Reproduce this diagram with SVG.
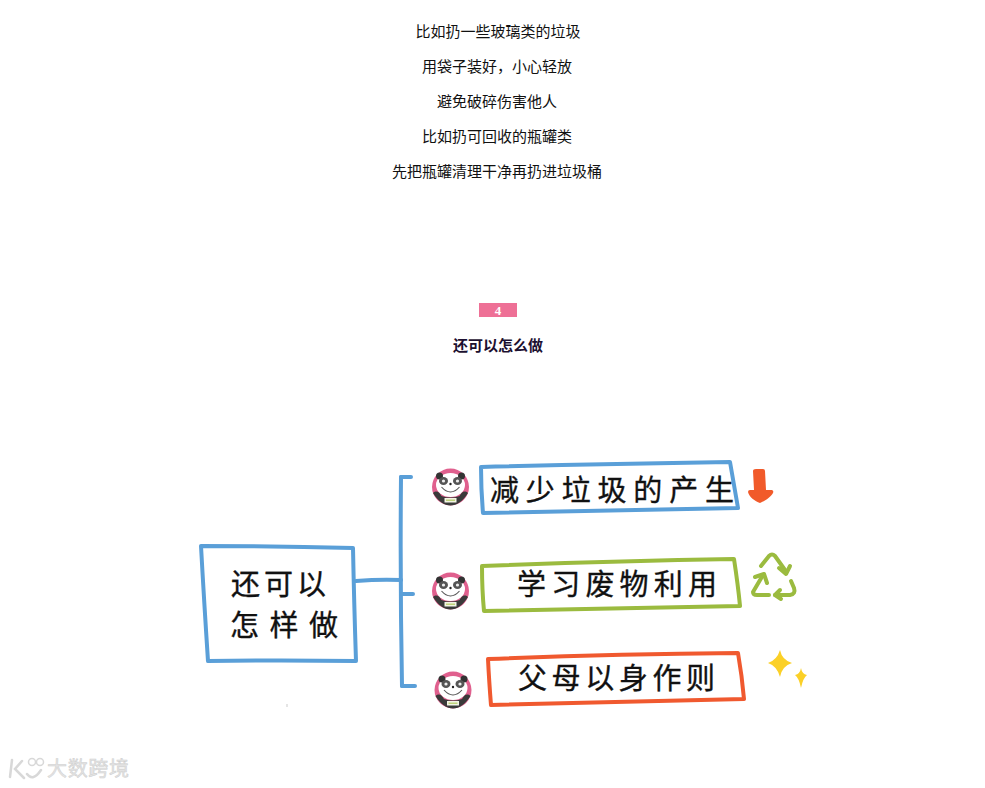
<svg xmlns="http://www.w3.org/2000/svg" xmlns:xlink="http://www.w3.org/1999/xlink" width="985" height="788" viewBox="0 0 985 788">
<style>
.t{font-family:"Noto Sans CJK SC","Liberation Sans",sans-serif;font-size:15px;fill:#111;text-anchor:middle}
.h{font-family:"Noto Sans CJK SC","Liberation Sans",sans-serif;font-size:29px;font-weight:400;fill:#111;stroke:#111;stroke-width:.35}
.s{fill:none;stroke-linecap:round;stroke-linejoin:round;stroke-width:4}
.b{stroke:#5a9fd8}.g{stroke:#9bbb3f}.o{stroke:#f0592f}
</style>
<defs>
<g id="panda">
<circle r="18.500" fill="#e0608e"/>
<ellipse cx="0" cy="-2" rx="14.500" ry="12" fill="#fff"/>
<circle cx="-11" cy="-11" r="3.500" fill="#333"/><circle cx="11" cy="-11" r="3.500" fill="#333"/>
<ellipse cx="-7" cy="-6" rx="4.500" ry="4" fill="#555"/><ellipse cx="7" cy="-6" rx="4.500" ry="4" fill="#555"/>
<circle cx="-7" cy="-6" r="1.600" fill="#eee"/><circle cx="7" cy="-6" r="1.600" fill="#eee"/>
<circle cy="-3" r="1.200" fill="#222"/>
<path d="M-9,0Q0,10 9,0" fill="none" stroke="#555" stroke-width="1.100"/>
<path d="M-17.500,6C-14,3 -11,5 -9,9C-3,11 3,11 9,9C11,5 14,3 17.500,6C13,14 6,18.500 0,18.500C-6,18.500 -13,14 -17.500,6Z" fill="#3a3a3a"/>
<rect x="-6" y="11" width="12" height="4.500" fill="#f2f3e4"/>
<rect x="-4.500" y="12.600" width="9" height="1.200" fill="#b3cb62"/>
</g>
</defs>
<rect width="985" height="788" fill="#fff"/>
<g id="intro">
<text class="t" x="498" y="36.500">比如扔一些玻璃类的垃圾</text>
<text class="t" x="497" y="71.500">用袋子装好，小心轻放</text>
<text class="t" x="497" y="106.500">避免破碎伤害他人</text>
<text class="t" x="497" y="141.500">比如扔可回收的瓶罐类</text>
<text class="t" x="497" y="176.500">先把瓶罐清理干净再扔进垃圾桶</text>
</g>
<g id="heading">
<rect x="479" y="303" width="38" height="14" fill="#ee7096"/>
<text x="498" y="314.500" text-anchor="middle" font-family="Liberation Serif,serif" font-size="13" font-weight="700" fill="#fff">4</text>
<text x="498" y="351" text-anchor="middle" font-family="Noto Sans CJK SC,sans-serif" font-size="15" font-weight="700" fill="#1c1030">还可以怎么做</text>
</g>
<g id="connectors">
<path class="s b" d="M356,581Q380,579 401,580"/>
<path class="s b" d="M401,477Q400,580 402,686"/>
<path class="s b" d="M401,477H411M402,594H413M402,686H415"/>
</g>
<g id="root">
<path class="s b" d="M201,546Q280,546 353,548Q354,600 356,661Q280,660 208,661Q204,600 201,546Z"/>
<text class="h" x="231" y="595" textLength="95">还可以</text>
<text class="h" x="230" y="636" textLength="108">怎样做</text>
</g>
<g id="item1">
<use href="#panda" xlink:href="#panda" x="450.500" y="487"/>
<path class="s b" d="M481,467Q600,464 730,462Q734,485 738,508Q610,510 483,513Q481,490 481,467Z"/>
<text class="h" x="490" y="501" textLength="244">减少垃圾的产生</text>
</g>
<g id="item2">
<use href="#panda" xlink:href="#panda" x="450.500" y="591"/>
<path class="s g" d="M482,566Q610,561 734,559Q738,585 740,606Q610,608 484,611Q482,590 482,566Z"/>
<text class="h" x="517" y="595" textLength="200">学习废物利用</text>
</g>
<g id="item3">
<use href="#panda" xlink:href="#panda" x="453" y="690"/>
<path class="s o" d="M488,659Q610,654 738,653Q742,676 744,699Q610,702 491,705Q489,680 488,659Z"/>
<text class="h" x="518" y="689" textLength="197">父母以身作则</text>
</g>
<g id="icons">
<path d="M753,471Q753,469 756,469H763Q765,469 765,471L766,490H772Q774,491 773,493C771,497 765,501 760,503C755,501 749,497 748,492Q748,490 750,490H754Z" fill="#f15a2a"/>
<path class="s g" d="M761,566L769,556Q772,553 775,556L785,570"/>
<path class="s g" d="M779,568L786,574L790,566"/>
<path class="s g" d="M763,575L753,592Q753,595 757,595H769"/>
<path class="s g" d="M755,577L764,574L767,583"/>
<path class="s g" d="M775,595H790Q796,594 794,588L791,581"/>
<path class="s g" d="M780,590L775,595L781,599"/>
<path d="M780,650Q782,660 792,663Q782,666 780,677Q777,666 768,663Q777,660 780,650Z" fill="#fbd027"/>
<path d="M801,668Q802,674 807,675Q803,678 801,688Q799,678 795,675Q800,674 801,668Z" fill="#fbd027"/>
</g>
<rect x="286.500" y="704" width="1" height="3" fill="#ccc"/>
<g id="watermark">
<path d="M12,760L10,777M22,761L15,769L24,778M27,774Q33,782 41,770" fill="none" stroke="#d8d8d8" stroke-width="2.500" stroke-linecap="round"/>
<circle cx="32" cy="762" r="3.500" fill="none" stroke="#d8d8d8" stroke-width="1.500"/>
<circle cx="40" cy="762" r="3.500" fill="none" stroke="#d8d8d8" stroke-width="1.500"/>
<text x="47" y="776" font-family="Noto Sans CJK SC,sans-serif" font-size="20" textLength="82" fill="#e4e4e4" stroke="#cfcfcf" stroke-width=".5">大数跨境</text>
</g>
</svg>
